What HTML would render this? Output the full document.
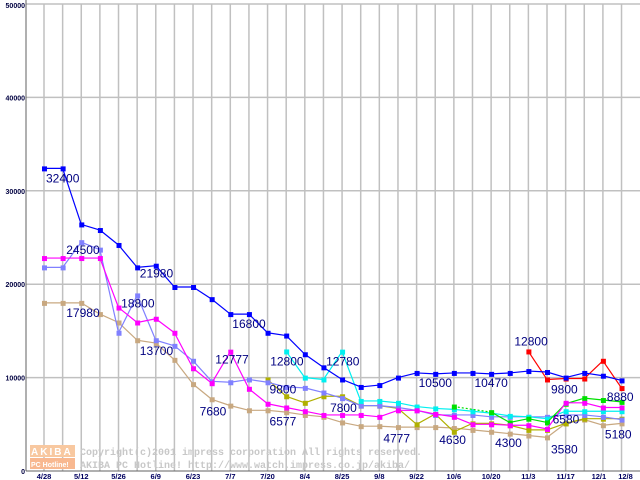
<!DOCTYPE html>
<html><head><meta charset="utf-8"><style>
body{margin:0;background:#fff}
svg{display:block;font-family:"Liberation Sans",sans-serif}
</style></head><body>
<svg id="chart" width="640" height="480" viewBox="0 0 640 480"></svg>
<script>
const categories=["4/28","5/5","5/12","5/19","5/26","6/2","6/9","6/16","6/23","6/30","7/7","7/14","7/20","7/27","8/4","8/11","8/25","9/1","9/8","9/15","9/22","9/29","10/6","10/13","10/20","10/27","11/3","11/10","11/17","11/24","12/1","12/8"];
const tickLabels=["4/28","","5/12","","5/26","","6/9","","6/23","","7/7","","7/20","","8/4","","8/25","","9/8","","9/22","","10/6","","10/20","","11/3","","11/17","","12/1","12/8"];
const yTicks=[0,10000,20000,30000,40000,50000];
const N=null;
const blue=[32400,32400,26400,25800,24200,21800,21980,19700,19700,18400,16800,16800,14800,14500,12500,11100,9800,9000,9200,10000,10500,10400,10500,10500,10400,10500,10700,10600,10000,10500,10200,9700];
const magenta=[22800,22800,22800,22800,17500,15900,16300,14800,11000,9400,12777,8800,7200,6800,6400,6000,6000,6000,5800,6500,6500,6100,5800,5000,5000,4900,4900,4500,7300,7300,6800,6800];
const lavender=[21800,21800,24500,23700,14800,18800,14000,13400,11800,9600,9500,9800,9500,9000,8900,8400,7800,7000,7000,6800,6500,6000,6000,6000,5800,5800,5800,5800,6000,6000,5800,5500];
const tan=[18000,18000,18000,16800,15900,14000,13700,11900,9300,7680,7000,6500,6500,6300,6000,5800,5200,4800,4800,4700,4700,4700,4600,4400,4200,4000,3800,3600,5100,5500,4900,5100];
const cyan=[N,N,N,N,N,N,N,N,N,N,N,N,N,12800,10000,9800,12780,7500,7500,7300,6900,6700,6600,6400,6200,5900,5800,5600,6400,6400,6400,6400];
const olive=[N,N,N,N,N,N,N,N,N,N,N,N,9800,8000,7300,8000,8000,7000,7000,6700,5000,6100,4200,5100,5100,4900,4400,4400,5100,5600,5600,5600];
const green=[N,N,N,N,N,N,N,N,N,N,N,N,N,N,N,N,N,N,N,N,N,N,6900,N,6300,5200,5600,5200,7200,7800,7600,7400];
const red=[N,N,N,N,N,N,N,N,N,N,N,N,N,N,N,N,N,N,N,N,N,N,N,N,N,N,12800,9800,9900,9900,11800,8880];
const annLabels=["32400","24500","21980","17980","18800","13700","16800","12777","7680","12800","12780","9800","6577","7800","4777","10500","4630","10470","4300","12800","9800","3580","6580","8880","5180"];
const annIdx=[0,2,6,2,5,6,10,10,9,13,16,12,12,16,18,20,21,23,24,26,27,27,28,30,30];
const annVal=[32400,24500,21980,17980,18800,13700,16800,12777,7680,12800,12780,9800,6577,7800,4777,10500,4630,10470,4300,12800,9800,3580,6580,8880,5180];

const svg=document.getElementById('chart');
const NS='http://www.w3.org/2000/svg';
const X0=44,DX=18.63,Y0=471,YMAX=50000,YTOP=4;
function xs(i){return X0+DX*i;}
function ys(v){return Y0-(Y0-YTOP)*v/YMAX;}
function mk(t,a,parent){const e=document.createElementNS(NS,t);for(const k in a)e.setAttribute(k,a[k]);(parent||svg).appendChild(e);return e;}

const grid=mk('g',{});


categories.forEach((c,i)=>{mk('line',{x1:xs(i),x2:xs(i),y1:YTOP,y2:Y0,stroke:'#c0c0c0','stroke-width':1.5},grid);});
yTicks.forEach(v=>{if(v>0)mk('line',{x1:26,x2:640,y1:ys(v),y2:ys(v),stroke:'#c0c0c0','stroke-width':1.5},grid);});

const wm=mk('g',{});


mk('rect',{x:30,y:445,width:45,height:12,fill:'#f8c8a0'},wm);
mk('rect',{x:30,y:458,width:45,height:11,fill:'#f8b890'},wm);
const wt1=mk('text',{x:31,y:455,fill:'#fff','font-size':10,'font-weight':'bold','letter-spacing':'2'},wm);wt1.textContent='AKIBA';
const wt2=mk('text',{x:31,y:467,fill:'#fff','font-size':7,'font-weight':'bold'},wm);wt2.textContent='PC Hotline!';
const wt3=mk('text',{x:80,y:455,fill:'#c8c8c8','font-size':10,'font-weight':'bold','font-family':'Liberation Mono, monospace'},wm);wt3.textContent='Copyright(c)2001 impress corporation All rights reserved.';
const wt4=mk('text',{x:80,y:468,fill:'#c8c8c8','font-size':10,'font-weight':'bold','font-family':'Liberation Mono, monospace'},wm);wt4.textContent='AKIBA PC Hotline!  http://www.watch.impress.co.jp/akiba/';

mk('line',{x1:26,x2:26,y1:0,y2:Y0,stroke:'#606060','stroke-width':1});
mk('line',{x1:26,x2:640,y1:Y0,y2:Y0,stroke:'#606060','stroke-width':1});

yTicks.forEach(v=>{const t=mk('text',{x:25,y:ys(v)+(v===50000?4:3),'text-anchor':'end','font-size':7,'font-weight':'bold',fill:'#000040'});


t.textContent=v;});
tickLabels.forEach((l,i)=>{if(!l)return;const t=mk('text',{x:xs(i)+(i===30?-4:(i===31?4:0)),y:479,'text-anchor':'middle','font-size':7.5,'font-weight':'bold',fill:'#000060'});


t.textContent=l;});

function drawSeries(name,data,color){
  const g=mk('g',{});
  
  
  let prev=-1;
  data.forEach((v,i)=>{if(v===null)return;
    if(prev>=0){mk('line',{x1:xs(prev),y1:ys(data[prev]),x2:xs(i),y2:ys(v),stroke:color,'stroke-width':1.2,'stroke-dasharray':(i-prev>1?'2,2':'none')},g);}
    prev=i;});
  data.forEach((v,i)=>{if(v===null)return;
    const r=mk('rect',{x:xs(i)-2,y:ys(v)-2,width:5,height:5,fill:color},g);
    
    });
}
drawSeries('series-tan',tan,'#c8a880');
drawSeries('series-olive',olive,'#b0b000');
drawSeries('series-lavender',lavender,'#8080ff');
drawSeries('series-cyan',cyan,'#00f0f0');
drawSeries('series-green',green,'#00e000');
drawSeries('series-magenta',magenta,'#ff00ff');
drawSeries('series-red',red,'#ff0000');
drawSeries('series-blue',blue,'#0000ff');

const offs=[[2,14],[-15,12],[-16,12],[-15,14],[-16,12],[-16,12],[2,14],[-15,12],[-12,16],[-16,14],[-16,14],[2,14],[2,16],[-12,14],[4,16],[2,14],[4,16],[2,14],[4,16],[-14,-6],[4,14],[4,16],[-13,14],[4,13],[2,16]];
annLabels.forEach((l,k)=>{const t=mk('text',{x:xs(annIdx[k])+offs[k][0],y:ys(annVal[k])+offs[k][1],'font-size':12,fill:'#000080'});


t.textContent=l;});
</script>
</body></html>
